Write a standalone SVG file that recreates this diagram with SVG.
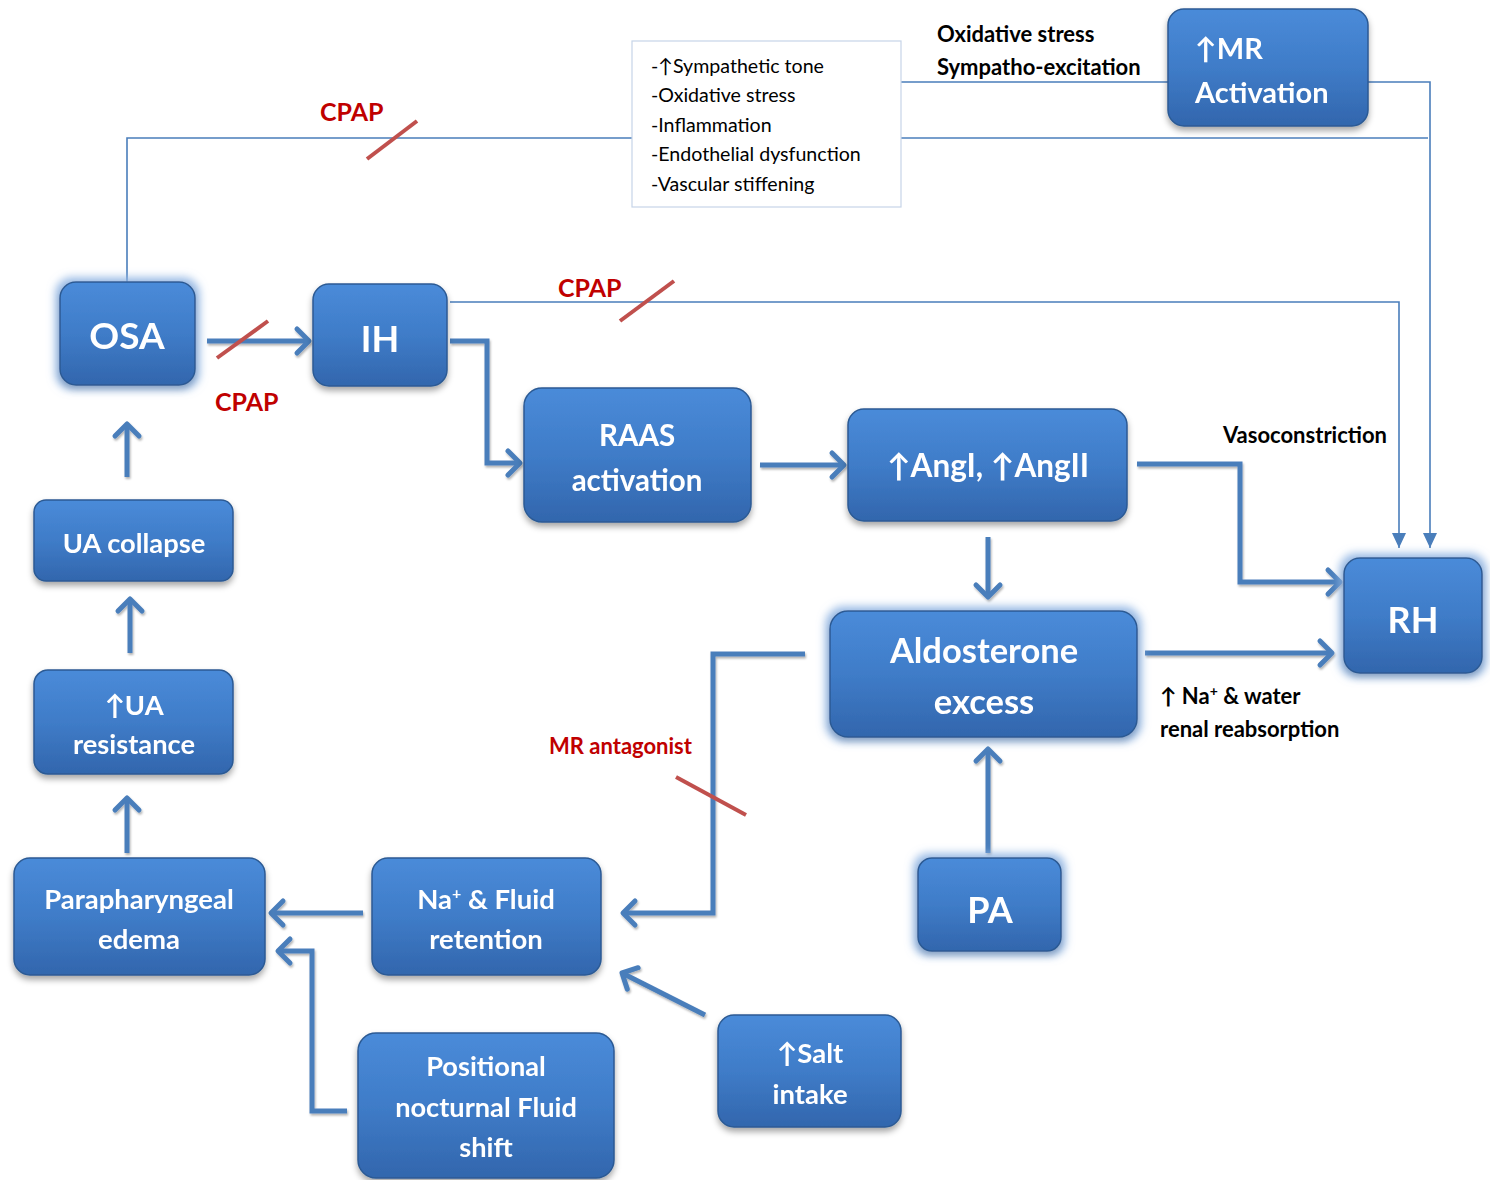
<svg xmlns="http://www.w3.org/2000/svg" width="1490" height="1180" viewBox="0 0 1490 1180">
<defs>
<linearGradient id="bg" x1="0" y1="0" x2="0" y2="1">
<stop offset="0" stop-color="#4a8bd9"/>
<stop offset="0.5" stop-color="#3f7cc8"/>
<stop offset="1" stop-color="#3266ad"/>
</linearGradient>
<filter id="sh" x="-20%" y="-20%" width="140%" height="150%">
<feDropShadow dx="0" dy="4" stdDeviation="3" flood-color="#000" flood-opacity="0.35"/>
</filter>
<filter id="glow" x="-30%" y="-30%" width="160%" height="170%">
<feMorphology in="SourceAlpha" operator="dilate" radius="4" result="d"/>
<feGaussianBlur in="d" stdDeviation="4" result="b"/>
<feFlood flood-color="#8fb4e3" flood-opacity="0.9"/>
<feComposite in2="b" operator="in" result="g"/>
<feDropShadow in="SourceGraphic" dx="0" dy="4" stdDeviation="3" flood-color="#000" flood-opacity="0.3" result="s"/>
<feMerge><feMergeNode in="g"/><feMergeNode in="s"/></feMerge>
</filter>
<filter id="lsh" filterUnits="userSpaceOnUse" x="0" y="0" width="1490" height="1180">
<feDropShadow dx="1" dy="2" stdDeviation="1.2" flood-color="#000" flood-opacity="0.3"/>
</filter>
<marker id="chev" markerUnits="userSpaceOnUse" markerWidth="32" markerHeight="32" viewBox="0 0 32 32" refX="27" refY="16" orient="auto">
<path d="M15,4 L27,16 L15,28" fill="none" stroke="#4a7ebb" stroke-width="5" stroke-linecap="round" stroke-linejoin="round"/>
</marker>
<marker id="tri" markerUnits="userSpaceOnUse" markerWidth="16" markerHeight="16" viewBox="0 0 16 16" refX="15" refY="8" orient="auto">
<path d="M0,1 L15,8 L0,15 Z" fill="#4a7ebb"/>
</marker>
</defs>
<style>
.node rect{fill:url(#bg);stroke:#2c5a94;stroke-width:1.5;}
.node text{fill:#fff;font-family:Lato,"Open Sans","DejaVu Sans",sans-serif;font-weight:bold;text-anchor:middle;}
.thick{fill:none;stroke:#4a7ebb;stroke-width:5;marker-end:url(#chev);}
.thin{fill:none;stroke:#4a7ebb;stroke-width:1.6;}
.slash{stroke:#c0504d;stroke-width:4;}
.red{fill:#c00000;font-family:Lato,"Open Sans",sans-serif;font-weight:bold;}
.lbl{fill:#000;font-family:Lato,"Open Sans",sans-serif;font-weight:bold;font-size:22px;}
.box text{font-family:Lato,"Open Sans",sans-serif;font-size:19.6px;fill:#000;}
</style>
<rect width="1490" height="1180" fill="#fff"/>

<g id="connectors">
<polyline class="thin" points="127,282 127,138 632,138"/>
<polyline class="thin" points="901,138 1428,138"/>
<polyline class="thin" points="901,82 1430,82 1430,548" marker-end="url(#tri)"/>
<polyline class="thin" points="450,302 1399,302 1399,548" marker-end="url(#tri)"/>
<g filter="url(#lsh)">
<polyline class="thick" points="207,341 309,341"/>
<polyline class="thick" points="450,341 487,341 487,463 520,463"/>
<polyline class="thick" points="760,465 844,465"/>
<polyline class="thick" points="1137,464 1240,464 1240,582 1340,582"/>
<polyline class="thick" points="988,537 988,597"/>
<polyline class="thick" points="1145,653 1332,653"/>
<polyline class="thick" points="805,654 713,654 713,913 623,913"/>
<polyline class="thick" points="988,853 988,749"/>
<polyline class="thick" points="363,913 271,913"/>
<polyline class="thick" points="347,1111 312,1111 312,951 278,951"/>
<polyline class="thick" points="705,1015 622,973"/>
<polyline class="thick" points="127,853 127,798"/>
<polyline class="thick" points="130,653 130,599"/>
<polyline class="thick" points="127,477 127,424"/>
</g>
<line class="slash" x1="367" y1="159" x2="417" y2="121"/>
<line class="slash" x1="217" y1="358" x2="268" y2="321"/>
<line class="slash" x1="620" y1="321" x2="674" y2="281"/>
<line class="slash" x1="676" y1="777" x2="746" y2="815"/>
</g>

<g id="labels">
<text class="red" x="320" y="121" font-size="25">CPAP</text>
<text class="red" x="215" y="411" font-size="25">CPAP</text>
<text class="red" x="558" y="297" font-size="25">CPAP</text>
<text class="red" x="549" y="754" font-size="22">MR antagonist</text>
<text class="lbl" x="937" y="42">Oxidative stress</text>
<text class="lbl" x="937" y="75">Sympatho-excitation</text>
<text class="lbl" x="1223" y="443">Vasoconstriction</text>
<text class="lbl" x="1160" y="704">↑ Na<tspan font-size="14" dy="-8">+</tspan><tspan dy="8"> &amp; water</tspan></text>
<text class="lbl" x="1160" y="737">renal reabsorption</text>
</g>

<g id="textbox" class="box">
<rect x="632" y="41" width="269" height="166" fill="#fff" stroke="#c6d4e8" stroke-width="1.2"/>
<text x="651" y="73">-↑Sympathetic tone</text>
<text x="651" y="102">-Oxidative stress</text>
<text x="651" y="132">-Inflammation</text>
<text x="651" y="161">-Endothelial dysfunction</text>
<text x="651" y="191">-Vascular stiffening</text>
</g>

<g id="osa" class="node" filter="url(#glow)"><rect x="60" y="282" width="135" height="103" rx="16"/><text x="127" y="349" font-size="37">OSA</text></g>
<g id="ih" class="node" filter="url(#sh)"><rect x="313" y="284" width="134" height="102" rx="16"/><text x="380" y="352" font-size="36">IH</text></g>
<g id="raas" class="node" filter="url(#sh)"><rect x="524" y="388" width="227" height="134" rx="18"/><text x="637" y="446" font-size="29.5">RAAS</text><text x="637" y="491" font-size="29.5">activation</text></g>
<g id="ang" class="node" filter="url(#sh)"><rect x="848" y="409" width="279" height="112" rx="16"/><text x="988" y="477" font-size="31.5">↑AngI, ↑AngII</text></g>
<g id="aldo" class="node" filter="url(#glow)"><rect x="830" y="611" width="307" height="126" rx="18"/><text x="984" y="663" font-size="34.5">Aldosterone</text><text x="984" y="714" font-size="34.5">excess</text></g>
<g id="rh" class="node" filter="url(#glow)"><rect x="1344" y="558" width="138" height="115" rx="16"/><text x="1413" y="633" font-size="36">RH</text></g>
<g id="mr" class="node" filter="url(#sh)"><rect x="1168" y="9" width="200" height="117" rx="16"/><text x="1195" y="59" font-size="29" style="text-anchor:start">↑MR</text><text x="1195" y="103" font-size="29" style="text-anchor:start">Activation</text></g>
<g id="uacollapse" class="node" filter="url(#sh)"><rect x="34" y="500" width="199" height="81" rx="12"/><text x="134" y="553" font-size="27.3">UA collapse</text></g>
<g id="uaresistance" class="node" filter="url(#sh)"><rect x="34" y="670" width="199" height="104" rx="14"/><text x="134" y="715" font-size="27.3">↑UA</text><text x="134" y="754" font-size="27.3">resistance</text></g>
<g id="edema" class="node" filter="url(#sh)"><rect x="14" y="858" width="251" height="117" rx="16"/><text x="139" y="909" font-size="27.5">Parapharyngeal</text><text x="139" y="949" font-size="27.5">edema</text></g>
<g id="na" class="node" filter="url(#sh)"><rect x="372" y="858" width="229" height="117" rx="16"/><text x="486" y="909" font-size="27.5">Na<tspan font-size="16" dy="-10">+</tspan><tspan dy="10">  &amp; Fluid</tspan></text><text x="486" y="949" font-size="27.5">retention</text></g>
<g id="positional" class="node" filter="url(#sh)"><rect x="358" y="1033" width="256" height="145" rx="18"/><text x="486" y="1076" font-size="27.2">Positional</text><text x="486" y="1117" font-size="27.2">nocturnal Fluid</text><text x="486" y="1157" font-size="27.2">shift</text></g>
<g id="salt" class="node" filter="url(#sh)"><rect x="718" y="1015" width="183" height="112" rx="16"/><text x="810" y="1063" font-size="27.5">↑Salt</text><text x="810" y="1104" font-size="27.5">intake</text></g>
<g id="pa" class="node" filter="url(#glow)"><rect x="918" y="858" width="143" height="93" rx="14"/><text x="990" y="923" font-size="36">PA</text></g>
</svg>
